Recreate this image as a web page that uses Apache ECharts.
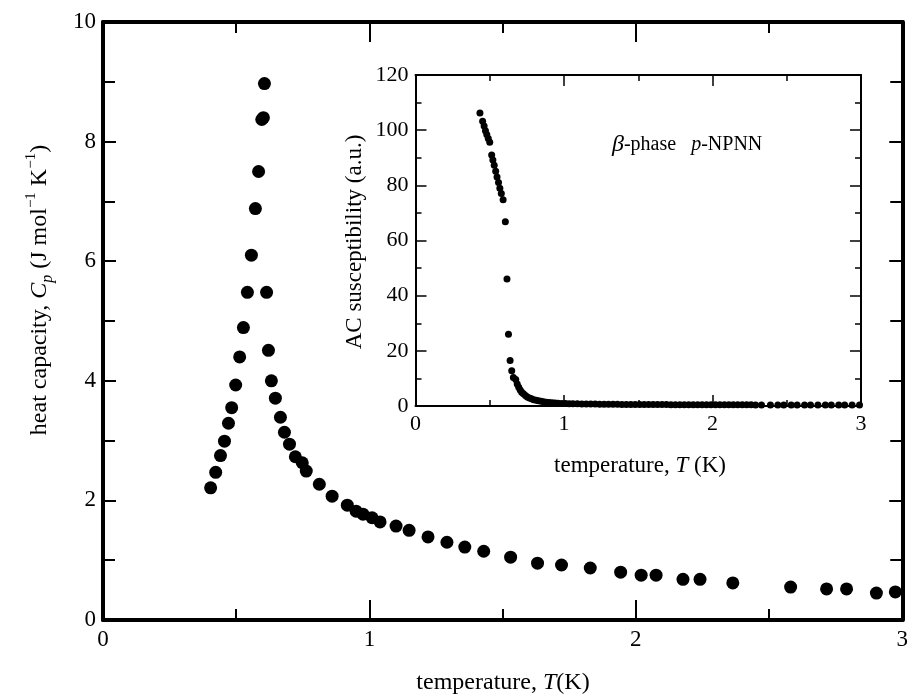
<!DOCTYPE html>
<html>
<head>
<meta charset="utf-8">
<script src="https://cdn.jsdelivr.net/npm/echarts@6/dist/echarts.min.js"></script>
<style>html,body{margin:0;padding:0;background:#fff}#c{width:911px;height:698px}</style>
</head>
<body>
<div id="c"></div>
<script>
// Main plot: heat capacity vs temperature
var mainData = [
  [0.404,2.21],[0.423,2.47],[0.441,2.75],[0.456,2.99],[0.471,3.29],[0.483,3.55],[0.498,3.93],
  [0.513,4.40],[0.527,4.89],[0.542,5.48],[0.557,6.10],[0.572,6.88],[0.584,7.50],[0.596,8.37],
  [0.602,8.40],[0.606,8.97],[0.614,5.48],[0.621,4.51],[0.632,4.00],[0.647,3.71],[0.666,3.39],
  [0.681,3.14],[0.700,2.94],[0.722,2.73],[0.748,2.63],[0.763,2.49],[0.812,2.27],[0.860,2.07],
  [0.917,1.92],[0.950,1.82],[0.976,1.77],[1.010,1.71],[1.040,1.64],[1.100,1.57],[1.149,1.50],
  [1.220,1.39],[1.291,1.30],[1.358,1.22],[1.429,1.15],[1.530,1.05],[1.631,0.95],[1.721,0.92],
  [1.829,0.87],[1.943,0.80],[2.020,0.75],[2.076,0.75],[2.177,0.68],[2.241,0.68],[2.364,0.62],
  [2.581,0.55],[2.716,0.52],[2.791,0.52],[2.903,0.45],[2.974,0.47]
];
// Inset: AC susceptibility vs temperature
var insetData = [
  [0.434,106.2],[0.452,103.2],[0.462,101.5],[0.471,99.8],[0.480,98.4],[0.490,97.0],[0.500,95.6],
  [0.513,91.0],[0.521,89.2],[0.530,87.3],[0.540,85.1],[0.549,83.0],[0.559,81.0],[0.568,78.9],
  [0.578,77.0],[0.590,74.8],[0.605,66.8],[0.616,46.0],[0.626,26.0],[0.637,16.5],[0.648,12.8],
  [0.659,10.3],[0.675,9.6],[0.685,8.0],[0.695,6.8],[0.705,5.8],[0.715,5.0],[0.727,4.4],
  [0.740,3.8],[0.753,3.3],[0.767,2.9],[0.781,2.6],[0.796,2.3],[0.812,2.1],[0.828,1.9],
  [0.845,1.7],[0.862,1.55],[0.880,1.4],[0.900,1.3],[0.920,1.2],[0.940,1.1],[0.960,1.0],
  [0.985,0.95],[1.010,0.9],[1.035,0.85],[1.060,0.8],[1.090,0.78],[1.120,0.75],[1.150,0.72],
  [1.180,0.7],[1.210,0.68],[1.240,0.66],[1.270,0.64],[1.300,0.62],[1.330,0.6],[1.360,0.6],
  [1.390,0.58],[1.420,0.57],[1.450,0.56],[1.480,0.55],[1.510,0.54],[1.540,0.53],[1.570,0.52],
  [1.600,0.52],[1.630,0.51],[1.660,0.5],[1.690,0.5],[1.720,0.49],[1.750,0.48],[1.780,0.48],
  [1.810,0.47],[1.840,0.47],[1.870,0.46],[1.900,0.46],[1.930,0.45],[1.960,0.45],[1.990,0.44],
  [2.020,0.44],[2.050,0.43],[2.080,0.43],[2.110,0.42],[2.140,0.42],[2.170,0.42],[2.200,0.41],
  [2.230,0.41],[2.260,0.41],[2.290,0.4],[2.330,0.4],[2.390,0.4],[2.440,0.4],[2.480,0.39],
  [2.530,0.39],[2.570,0.39],[2.620,0.38],[2.660,0.38],[2.710,0.38],[2.760,0.37],[2.800,0.37],
  [2.850,0.37],[2.890,0.36],[2.940,0.36],[2.990,0.36]
];
var mainXTicks = [0, 1, 2, 3];
var mainYTicks = [0, 2, 4, 6, 8, 10];
var insetXTicks = [0, 1, 2, 3];
var insetYTicks = [0, 20, 40, 60, 80, 100, 120];

var FONT = '"Liberation Serif","DejaVu Serif",serif';
var chart = echarts.init(document.getElementById('c'), null, {renderer: 'canvas'});

function axisCommon(o) {
  return Object.assign({
    type: 'value',
    splitLine: {show: false},
    axisLine: {show: true, onZero: false, lineStyle: {color: '#000', width: o.lw}},
    axisTick: {show: true, inside: true, length: o.tl, lineStyle: {color: '#000', width: o.tw}},
    minorTick: {show: true, splitNumber: 2, length: o.ml, lineStyle: {color: '#000', width: o.tw}},
    axisLabel: {show: o.label, color: '#000', fontFamily: FONT, fontSize: o.fs, margin: o.margin, showMinLabel: true, showMaxLabel: true}
  }, o.extra);
}

chart.setOption({
  animation: false,
  backgroundColor: '#fff',
  grid: [
    {left: 103, right: 6, top: 22, bottom: 78, show: false},
    {left: 415.5, right: 50, top: 75, bottom: 292, show: true, backgroundColor: '#fff', borderWidth: 0, z: 5}
  ],
  xAxis: [
    axisCommon({lw: 4, tl: 20, ml: 11, tw: 2, fs: 23, margin: 8, label: true,
      extra: {gridIndex: 0, position: 'bottom', min: mainXTicks[0], max: mainXTicks[mainXTicks.length-1], interval: 1}}),
    axisCommon({lw: 4, tl: 20, ml: 11, tw: 2, fs: 23, margin: 8, label: false,
      extra: {gridIndex: 0, position: 'top', min: 0, max: 3, interval: 1}}),
    axisCommon({lw: 2, tl: 11, ml: 6, tw: 1.5, fs: 22, margin: 7, label: true,
      extra: {gridIndex: 1, position: 'bottom', min: insetXTicks[0], max: insetXTicks[insetXTicks.length-1], interval: 1, z: 6}}),
    axisCommon({lw: 2, tl: 11, ml: 6, tw: 1.5, fs: 22, margin: 7, label: false,
      extra: {gridIndex: 1, position: 'top', min: 0, max: 3, interval: 1, z: 6}})
  ],
  yAxis: [
    axisCommon({lw: 4, tl: 13, ml: 12, tw: 2, fs: 23, margin: 7, label: true,
      extra: {gridIndex: 0, position: 'left', min: mainYTicks[0], max: mainYTicks[mainYTicks.length-1], interval: 2}}),
    axisCommon({lw: 4, tl: 13, ml: 12, tw: 2, fs: 23, margin: 7, label: false,
      extra: {gridIndex: 0, position: 'right', min: 0, max: 10, interval: 2}}),
    axisCommon({lw: 2, tl: 11, ml: 6, tw: 1.5, fs: 22, margin: 7, label: true,
      extra: {gridIndex: 1, position: 'left', min: insetYTicks[0], max: insetYTicks[insetYTicks.length-1], interval: 20, z: 6}}),
    axisCommon({lw: 2, tl: 11, ml: 6, tw: 1.5, fs: 22, margin: 7, label: false,
      extra: {gridIndex: 1, position: 'right', min: 0, max: 120, interval: 20, z: 6}})
  ],
  series: [
    {type: 'scatter', xAxisIndex: 0, yAxisIndex: 0, data: mainData, symbol: 'circle', symbolSize: 13,
     itemStyle: {color: '#000', opacity: 1}, z: 3},
    {type: 'scatter', xAxisIndex: 2, yAxisIndex: 2, data: insetData, symbol: 'circle', symbolSize: 7,
     itemStyle: {color: '#000', opacity: 1}, z: 7}
  ],
  graphic: [
    {type: 'text', x: 503, y: 683, z: 10, style: {
      text: '{a|temperature, }{i|T}{a|(K)}', align: 'center', verticalAlign: 'middle',
      rich: {a: {fontFamily: FONT, fontSize: 24, fill: '#000'}, i: {fontFamily: FONT, fontSize: 24, fontStyle: 'italic', fill: '#000'}}
    }},
    {type: 'text', x: 40, y: 290, rotation: Math.PI/2, z: 10, style: {
      text: '{a|heat capacity, }{i|C}{sub|p}{a| (J mol}{sup|−1}{a| K}{sup|−1}{a|)}', align: 'center', verticalAlign: 'middle',
      rich: {
        a: {fontFamily: FONT, fontSize: 24, fill: '#000', lineHeight: 32, verticalAlign: 'middle'},
        i: {fontFamily: FONT, fontSize: 24, fontStyle: 'italic', fill: '#000', lineHeight: 32, verticalAlign: 'middle'},
        sub: {fontFamily: FONT, fontSize: 16, fontStyle: 'italic', fill: '#000', lineHeight: 32, verticalAlign: 'bottom'},
        sup: {fontFamily: FONT, fontSize: 15, fill: '#000', lineHeight: 32, verticalAlign: 'top'}
      }
    }},
    {type: 'text', x: 640, y: 466, z: 10, style: {
      text: '{a|temperature, }{i|T}{a| (K)}', align: 'center', verticalAlign: 'middle',
      rich: {a: {fontFamily: FONT, fontSize: 23, fill: '#000'}, i: {fontFamily: FONT, fontSize: 23, fontStyle: 'italic', fill: '#000'}}
    }},
    {type: 'text', x: 355, y: 242, rotation: Math.PI/2, z: 10, style: {
      text: 'AC susceptibility (a.u.)', align: 'center', verticalAlign: 'middle',
      fontFamily: FONT, fontSize: 23, fill: '#000'
    }},
    {type: 'text', x: 612, y: 145, z: 10, style: {
      text: '{b|β}{a|-phase   }{i|p}{a|-NPNN}', align: 'left', verticalAlign: 'middle',
      rich: {
        a: {fontFamily: FONT, fontSize: 20, fill: '#000'},
        i: {fontFamily: FONT, fontSize: 20, fontStyle: 'italic', fill: '#000'},
        b: {fontFamily: FONT, fontSize: 24, fontStyle: 'italic', fill: '#000'}
      }
    }}
  ]
});
</script>
</body>
</html>
